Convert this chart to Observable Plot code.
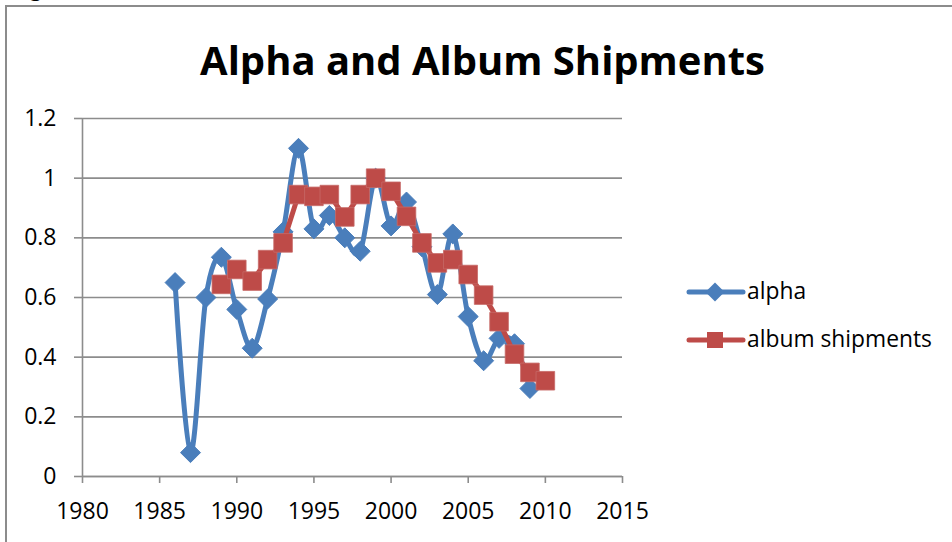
<!DOCTYPE html>
<html>
<head>
<meta charset="utf-8">
<script src="https://cdn.jsdelivr.net/npm/d3@7"></script>
<script src="https://cdn.jsdelivr.net/npm/@observablehq/plot@0.6"></script>
<style>
  html, body { margin: 0; padding: 0; background: #fff; }
  #wrap { position: relative; width: 952px; height: 542px; overflow: hidden; background: #fff; }
  #frame { position: absolute; left: 5px; top: 5px; width: 960px; height: 560px;
           border-left: 2px solid #8c8c8c; border-top: 2px solid #8c8c8c; box-sizing: border-box; }
  #frag { position: absolute; left: 29px; top: -27px; font: 26px "Liberation Serif", serif; color: #000; }
  #title { position: absolute; left: 0; width: 965px; text-align: center; top: 40px;
           font-family: "Open Sans", sans-serif; font-weight: 700; color: #000; white-space: nowrap; line-height: 1; }
  #chart { position: absolute; left: 0; top: 0; }
  #legend { position: absolute; left: 0; top: 0; }
</style>
</head>
<body>
<div id="wrap">
  <div id="frame"></div>
  <div id="frag">g</div>
  <div id="chart"></div>
  <div id="title"></div>
  <svg id="legend" width="952" height="542"></svg>
</div>
<script>
const titleText = "Alpha and Album Shipments";
const seriesNames = ["alpha", "album shipments"];
const seriesColors = ["#4A7EBB", "#BE4B48"];

const alphaYears = [1986, 1987, 1988, 1989, 1990, 1991, 1992, 1993, 1994, 1995, 1996, 1997,
                    1998, 1999, 2000, 2001, 2002, 2003, 2004, 2005, 2006, 2007, 2008, 2009];
const alphaValues = [0.65, 0.08, 0.60, 0.735, 0.56, 0.43, 0.595, 0.82, 1.10, 0.83, 0.875, 0.80,
                     0.755, 1.0, 0.84, 0.92, 0.77, 0.61, 0.813, 0.536, 0.388, 0.463, 0.445, 0.295];

const albumYears = [1989, 1990, 1991, 1992, 1993, 1994, 1995, 1996, 1997, 1998, 1999,
                    2000, 2001, 2002, 2003, 2004, 2005, 2006, 2007, 2008, 2009, 2010];
const albumValues = [0.644, 0.694, 0.655, 0.727, 0.783, 0.945, 0.939, 0.945, 0.87, 0.945, 1.0,
                     0.956, 0.872, 0.783, 0.716, 0.727, 0.677, 0.608, 0.519, 0.41, 0.349, 0.321];

const xTicks = [1980, 1985, 1990, 1995, 2000, 2005, 2010, 2015];
const yTicks = [0, 0.2, 0.4, 0.6, 0.8, 1, 1.2];
const yTickLabels = ["0", "0.2", "0.4", "0.6", "0.8", "1", "1.2"];

const alphaData = alphaYears.map((year, i) => ({year, value: alphaValues[i]}));
const albumData = albumYears.map((year, i) => ({year, value: albumValues[i]}));

const tickFont = "Open Sans, sans-serif";
const gridColor = "#8c8c8c";

const chart = Plot.plot({
  width: 952,
  height: 542,
  marginLeft: 82,
  marginRight: 330,
  marginTop: 118,
  marginBottom: 66,
  style: { fontFamily: tickFont, fontSize: "23px", color: "#000", background: "transparent", overflow: "visible" },
  x: { domain: [1980, 2015] },
  y: { domain: [0, 1.2] },
  marks: [
    Plot.gridY(yTicks, { stroke: gridColor, strokeOpacity: 1, strokeWidth: 1.6 }),
    Plot.ruleX([1980], { stroke: gridColor, strokeWidth: 1.6 }),
    Plot.ruleY([0], { stroke: gridColor, strokeWidth: 1.6 }),
    Plot.axisX(xTicks, { tickSize: 7, tickPadding: 19, stroke: gridColor, strokeWidth: 1.6,
                         tickFormat: d => String(d), label: null, fill: "#000" }),
    Plot.axisY(yTicks, { tickSize: 8, tickPadding: 18, stroke: gridColor, strokeWidth: 1.6,
                         tickFormat: d => yTickLabels[yTicks.indexOf(d)], label: null, fill: "#000" }),
    Plot.line(alphaData, { x: "year", y: "value", stroke: seriesColors[0], strokeWidth: 5,
                           curve: "cardinal", tension: 0 }),
    Plot.dot(alphaData, { x: "year", y: "value", symbol: "diamond2", r: 9,
                          fill: seriesColors[0], stroke: seriesColors[0], strokeWidth: 1 }),
    Plot.line(albumData, { x: "year", y: "value", stroke: seriesColors[1], strokeWidth: 5 }),
    Plot.dot(albumData, { x: "year", y: "value", symbol: "square", r: 10.5,
                          fill: seriesColors[1], stroke: "#c76a67", strokeWidth: 0.8 })
  ]
});
document.getElementById("chart").appendChild(chart);

// fit helper
const cv = document.createElement("canvas").getContext("2d");

// title
const titleEl = document.getElementById("title");
titleEl.textContent = titleText;
cv.font = "bold 100px 'Open Sans'";
const tw = cv.measureText(titleText).width;
const titleSize = Math.min(40, 100 * 565 / tw);
titleEl.style.fontSize = titleSize + "px";

// legend
const leg = d3.select("#legend");
cv.font = "100px 'Open Sans'";
const legSize = Math.min(24, 100 * 185 / cv.measureText(seriesNames[1]).width);
const legendRows = [292, 340];
seriesNames.forEach((name, i) => {
  const g = leg.append("g").attr("transform", `translate(0,${legendRows[i]})`);
  g.append("line").attr("x1", 689).attr("x2", 743).attr("y1", 0).attr("y2", 0)
    .attr("stroke", seriesColors[i]).attr("stroke-width", 5).attr("stroke-linecap", "round");
  if (i === 0) {
    g.append("path").attr("d", d3.symbol(d3.symbolDiamond2, 8.6 * 8.6 * Math.PI)())
      .attr("transform", "translate(715,0)").attr("fill", seriesColors[0]);
  } else {
    g.append("rect").attr("x", 707).attr("y", -8).attr("width", 16).attr("height", 16)
      .attr("fill", seriesColors[1]);
  }
  g.append("text").attr("x", 747).attr("y", 0).attr("dy", "0.32em")
    .attr("font-family", tickFont).attr("font-size", legSize).attr("fill", "#000").text(name);
});
</script>
</body>
</html>
